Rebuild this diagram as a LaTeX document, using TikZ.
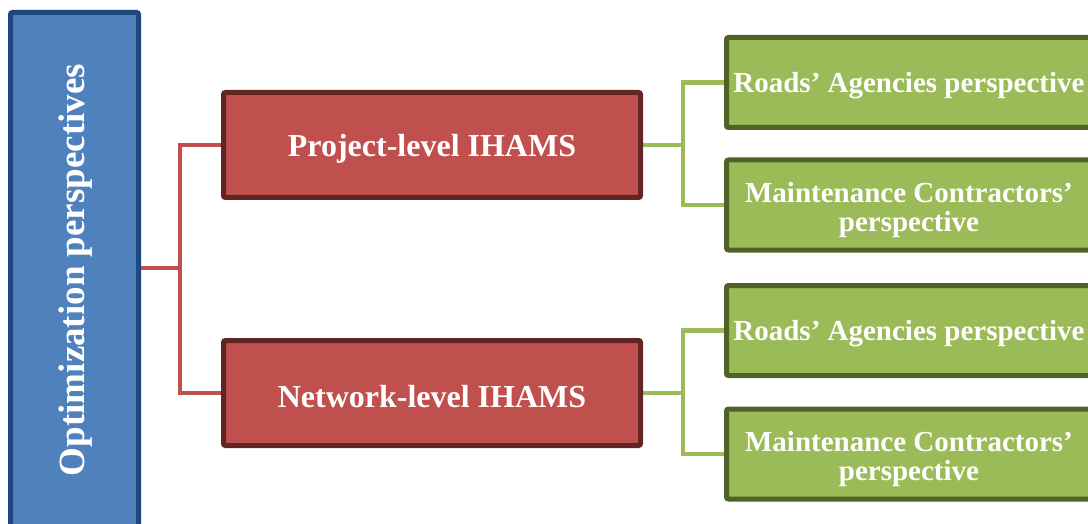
\documentclass[tikz,border=0pt]{standalone}
\usepackage{fontspec}
\setmainfont{Liberation Serif}
\usetikzlibrary{backgrounds}
\definecolor{bluefill}{HTML}{4F81BD}
\definecolor{blueedge}{HTML}{1F497D}
\definecolor{redfill}{HTML}{C0504D}
\definecolor{rededge}{HTML}{632523}
\definecolor{greenfill}{HTML}{9BBB59}
\definecolor{greenedge}{HTML}{4F6228}
\newcommand{\lowered}[2]{\raisebox{-#1}[\height][\depth]{#2}}
\tikzset{
  box/.style={draw, line width=5pt, rounded corners=2pt, inner sep=0pt, outer sep=0pt, text=white, font=\bfseries, align=center},
  rootbox/.style={box, fill=bluefill, draw=blueedge, minimum width=128pt, minimum height=515pt},
  levelbox/.style={box, fill=redfill, draw=rededge, minimum width=417pt, minimum height=105pt, font=\bfseries\fontsize{32}{34}\selectfont},
  leafbox/.style={box, fill=greenfill, draw=greenedge, minimum width=365pt, minimum height=90pt, font=\bfseries\fontsize{29}{29}\selectfont},
  redline/.style={draw=redfill, line width=4.5pt},
  greenline/.style={draw=greenfill, line width=4.5pt},
}
\begin{document}
\begin{tikzpicture}[x=1pt,y=1pt]
\useasboundingbox (0,0) rectangle (1088,-524);
\clip (0,0) rectangle (1088,-524);
\node[rootbox] (root) at (74.5,-270) {};
\node[rotate=90, text=white, font=\bfseries\fontsize{37}{40}\selectfont] (roottext) at (75.5,-270) {Optimization perspectives};
\node[levelbox] (proj) at (432,-145) {\lowered{3.5pt}{Project-level IHAMS}};
\node[levelbox] (net) at (432,-393) {\lowered{3.5pt}{Network-level IHAMS}};
\node[leafbox] (g1) at (909,-82.5) {\lowered{3pt}{Roads’ Agencies perspective}};
\node[leafbox] (g2) at (909,-205) {\lowered{5pt}{Maintenance Contractors’}\\\lowered{5pt}{perspective}};
\node[leafbox] (g3) at (909,-330.5) {\lowered{3pt}{Roads’ Agencies perspective}};
\node[leafbox] (g4) at (909,-454) {\lowered{5pt}{Maintenance Contractors’}\\\lowered{5pt}{perspective}};
\coordinate (jr) at (180,-268);
\coordinate (jp) at (683,-145);
\coordinate (jn) at (683,-393);
\begin{scope}[on background layer]
\draw[redline] (root.east |- jr) -- (jr);
\draw[redline] (proj.west) -| (jr) |- (net.west);
\draw[greenline] (proj.east) -- (jp);
\draw[greenline] (g1.west) -| (jp) |- (g2.west);
\draw[greenline] (net.east) -- (jn);
\draw[greenline] (g3.west) -| (jn) |- (g4.west);
\end{scope}
\end{tikzpicture}
\end{document}
